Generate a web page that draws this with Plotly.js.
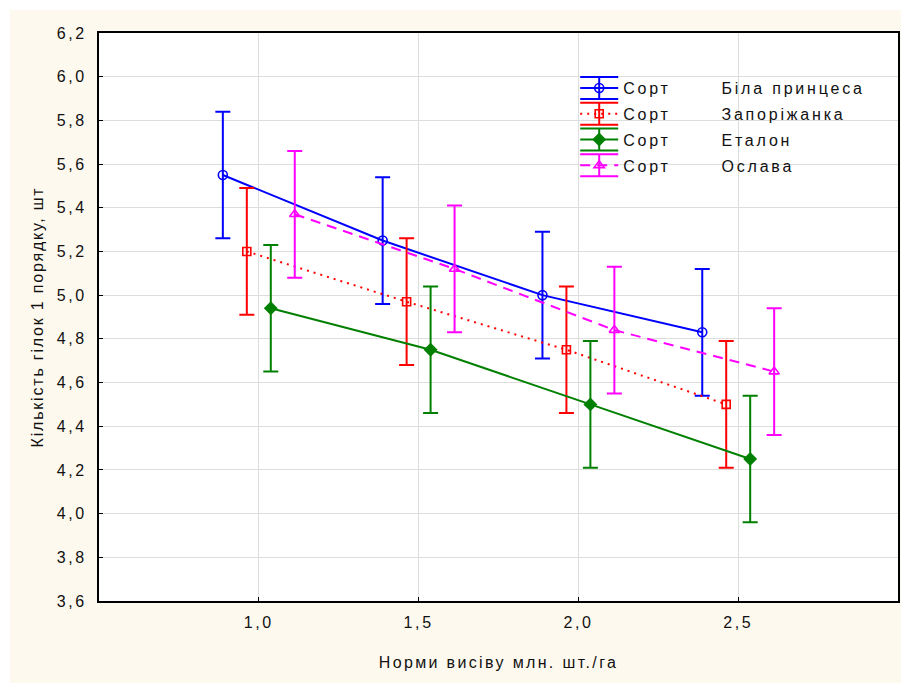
<!DOCTYPE html>
<html>
<head>
<meta charset="utf-8">
<script src="https://cdn.plot.ly/plotly-3.0.1.min.js"></script>
<style>
  html, body { margin: 0; padding: 0; background: #ffffff; }
  #chart { position: absolute; left: 10px; top: 10px; width: 891px; height: 673px; }
  .legendtext { letter-spacing: 2.8px; }
  g.xtick text, g.ytick text { letter-spacing: 2.6px; }
  text.xtitle { letter-spacing: 2.35px; }
  text.ytitle { letter-spacing: 1.8px; }
</style>
</head>
<body>
<div id="chart"></div>
<script>
// Norms of sowing (million pcs/ha)
const norms = [1.0, 1.5, 2.0, 2.5];
const seriesLabel = "Сорт";
const varieties = ["Біла принцеса", "Запоріжанка", "Еталон", "Ослава"];
const belaPrincesa = [5.55, 5.25, 5.00, 4.83];
const zaporizhanka = [5.20, 4.97, 4.75, 4.50];
const etalon       = [4.94, 4.75, 4.50, 4.25];
const oslava       = [5.37, 5.12, 4.84, 4.65];
const errHalf = [0.29, 0.29, 0.29, 0.29];
const yTicks = [3.6, 3.8, 4.0, 4.2, 4.4, 4.6, 4.8, 5.0, 5.2, 5.4, 5.6, 5.8, 6.0, 6.2];
const xTicks = [1.0, 1.5, 2.0, 2.5];
const xTitle = "Норми висіву млн. шт./га";
const yTitle = "Кількість гілок 1 порядку, шт";

const values = [belaPrincesa, zaporizhanka, etalon, oslava];
const colors = ["#0000ff", "#ff0000", "#008000", "#ff00ff"];
const dashes = ["solid", "2px,5px", "solid", "10px,7px"];
const symbols = ["circle-open", "square-open", "diamond", "triangle-up-open"];
const msizes = [9, 8, 9, 9];
const shifts = [-0.1125, -0.0375, 0.0375, 0.1125];
const pad = "\u00a0".repeat(7);

const FONT = "Liberation Sans, Arial, sans-serif";

const traces = values.map((vals, i) => ({
  type: "scatter",
  mode: "lines+markers",
  name: seriesLabel + pad + varieties[i],
  legendgroup: "g" + i,
  x: norms.map(n => n + shifts[i]),
  y: vals,
  line: { color: colors[i], width: 2, dash: dashes[i] },
  marker: { symbol: symbols[i], size: msizes[i], color: colors[i], line: { color: colors[i], width: 1.6 } },
  error_y: { type: "data", array: errHalf, visible: true, color: colors[i], thickness: 2, width: 7.5 }
}));

const layout = {
  width: 891, height: 673,
  paper_bgcolor: "#fef9ef",
  plot_bgcolor: "#ffffff",
  separators: ", ",
  margin: { l: 89, r: 3, t: 23, b: 82 },
  font: { family: FONT, size: 16, color: "#111111" },
  showlegend: true,
  legend: {
    x: 0.596, y: 0.933, xanchor: "left", yanchor: "top",
    bgcolor: "rgba(0,0,0,0)", borderwidth: 0,
    font: { family: FONT, size: 16, color: "#111111" },
    itemwidth: 38,
    tracegroupgap: 2
  },
  xaxis: {
    range: [0.5, 3.0],
    tickvals: xTicks,
    ticktext: xTicks.map(v => v.toFixed(1).replace(".", ",")),
    showgrid: true, gridcolor: "#dddddd", gridwidth: 1,
    zeroline: false,
    showline: true, linecolor: "#000000", linewidth: 2, mirror: true,
    ticks: "inside", ticklen: 4, tickcolor: "#000000", tickwidth: 1,
    ticklabelstandoff: 6,
    tickfont: { family: FONT, size: 16, color: "#111111" },
    title: { text: xTitle, font: { family: FONT, size: 16, color: "#111111" }, standoff: 27 }
  },
  yaxis: {
    range: [3.6, 6.2],
    tickvals: yTicks,
    ticktext: yTicks.map(v => v.toFixed(1).replace(".", ",")),
    showgrid: true, gridcolor: "#dddddd", gridwidth: 1,
    zeroline: false,
    showline: true, linecolor: "#000000", linewidth: 2, mirror: true,
    ticks: "inside", ticklen: 4, tickcolor: "#000000", tickwidth: 1,
    ticklabelstandoff: 7,
    tickfont: { family: FONT, size: 16, color: "#111111" },
    title: { text: yTitle, font: { family: FONT, size: 16, color: "#111111" }, standoff: 9 }
  }
};

Plotly.newPlot("chart", traces, layout, { displayModeBar: false, staticPlot: true }).then(gd => {
  // add error-bar glyphs to legend symbols, like the original legend
  const NS = "http://www.w3.org/2000/svg";
  const items = gd.querySelectorAll("g.legend g.traces");
  items.forEach((item, i) => {
    const sym = item.querySelector("g.legendsymbols");
    const linePath = item.querySelector("g.legendlines path");
    if (!sym || !linePath) return;
    const bb = linePath.getBBox();
    const x0 = bb.x, w = bb.width;
    const p = document.createElementNS(NS, "path");
    p.setAttribute("d", `M${x0},-11h${w}M${x0},11h${w}M${x0 + w / 2},-11v22`);
    p.setAttribute("stroke", colors[i % colors.length]);
    p.setAttribute("stroke-width", "2");
    p.setAttribute("fill", "none");
    sym.insertBefore(p, sym.firstChild);
  });
});
</script>
</body>
</html>
